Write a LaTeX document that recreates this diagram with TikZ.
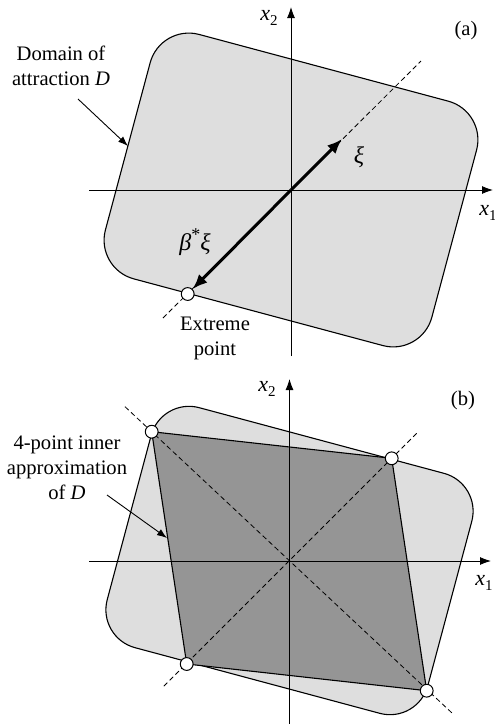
\documentclass[tikz,border=0pt]{standalone}
\usepackage{fontspec}
\setmainfont{Liberation Serif}
\usetikzlibrary{arrows.meta}
\definecolor{lightD}{RGB}{222,222,222}
\definecolor{darkD}{RGB}{149,149,149}
\newcommand{\lbltxt}{\fontsize{10.3}{12.5}\selectfont}
\newcommand{\varx}[1]{{\fontsize{11}{12}\selectfont\itshape x}\raisebox{-0.45ex}{\fontsize{7.5}{8}\selectfont #1}}
\begin{document}
\begin{tikzpicture}[x=0.5pt,y=-0.5pt,
  domainshape/.style={fill=lightD,draw=black,line width=0.55pt},
  innershape/.style={fill=darkD,draw=black,line width=0.55pt},
  axisline/.style={draw=black,line width=0.45pt,-{Latex[length=5.5pt,width=4pt]}},
  diagline/.style={draw=black,dash pattern=on 2.5pt off 1.6pt,line width=0.4pt},
  thickarrow/.style={draw=black,line width=1.5pt,-{Latex[length=7.5pt,width=6pt]}},
  pointer/.style={draw=black,line width=0.45pt,-{Latex[length=5pt,width=3.6pt]}},
  extremept/.style={circle,draw=black,fill=white,line width=0.5pt,minimum size=6.4pt,inner sep=0pt},
  lbl/.style={font=\lbltxt,align=center,inner sep=0pt},
  mathlbl/.style={font=\fontsize{12}{13}\selectfont\itshape,inner sep=0pt}]
\useasboundingbox (0,0) rectangle (494,724);
% ---------------- panel (a) ----------------
\coordinate (Oa) at (291,190);
\draw[domainshape,rounded corners=20pt] (160.5,24.1) -- (486.9,111.5) -- (421.5,355.9) -- (95.1,268.5) -- cycle;
\coordinate (xa0) at (89,190);
\coordinate (xa1) at (493,190);
\coordinate (ya0) at (291,356);
\coordinate (ya1) at (291,7);
\draw[axisline] (xa0) -- (xa1);
\draw[axisline] (ya0) -- (ya1);
\coordinate (da0) at (163,318);
\coordinate (da1) at (421,61);
\draw[diagline] (da0) -- (da1);
\node[extremept] (ep) at (187.7,294) {};
\coordinate (xitip) at (342,139);
\draw[thickarrow] (Oa) -- (xitip);
\draw[thickarrow] (Oa) -- (ep);
\node[mathlbl] (xi) at (359,157) {ξ};
\node[mathlbl] (bxi) at (195,242) {β\raisebox{0.9ex}{\fontsize{9}{9}\selectfont\upshape *}ξ};
\node[inner sep=0pt] (x2a) at (269,18) {\varx{2}};
\node[inner sep=0pt] (x1a) at (488,213) {\varx{1}};
\node[lbl] (pa) at (466,31) {(a)};
\node[lbl] (dom) at (61,66) {Domain of\\attraction \textit{D}};
\coordinate (domtail) at (78,99);
\coordinate (domtip) at (128,146);
\draw[pointer] (domtail) -- (domtip);
\node[lbl] (extxt) at (215,338) {Extreme\\point};
% ---------------- panel (b) ----------------
\coordinate (Ob) at (289.5,561);
\draw[domainshape,rounded corners=19.6pt] (161.3,397.5) -- (481.9,483.5) -- (417.7,723.5) -- (97.1,637.5) -- cycle;
\coordinate (p1) at (151.7,431.7);
\coordinate (p2) at (391.7,458.3);
\coordinate (p3) at (426.7,690.7);
\coordinate (p4) at (186.7,664);
\draw[innershape] (p1) -- (p2) -- (p3) -- (p4) -- cycle;
\coordinate (xb0) at (89,561);
\coordinate (xb1) at (491,561);
\coordinate (yb0) at (289.5,724);
\coordinate (yb1) at (289.5,379);
\draw[axisline] (xb0) -- (xb1);
\draw[axisline] (yb0) -- (yb1);
\coordinate (db1a) at (125,406.7);
\coordinate (db1b) at (452,713);
\coordinate (db2a) at (416.7,433.3);
\coordinate (db2b) at (162.3,687.7);
\draw[diagline] (db1a) -- (db1b);
\draw[diagline] (db2a) -- (db2b);
\node[extremept] (c1) at (p1) {};
\node[extremept] (c2) at (p2) {};
\node[extremept] (c3) at (p3) {};
\node[extremept] (c4) at (p4) {};
\node[inner sep=0pt] (x2b) at (267,389) {\varx{2}};
\node[inner sep=0pt] (x1b) at (484,583) {\varx{1}};
\node[lbl] (pb) at (463,401) {(b)};
\node[lbl] (approx) at (67,468) {4-point inner\\approximation\\of \textit{D}};
\coordinate (aptail) at (107,495);
\coordinate (aptip) at (167,538);
\draw[pointer] (aptail) -- (aptip);
\end{tikzpicture}
\end{document}
